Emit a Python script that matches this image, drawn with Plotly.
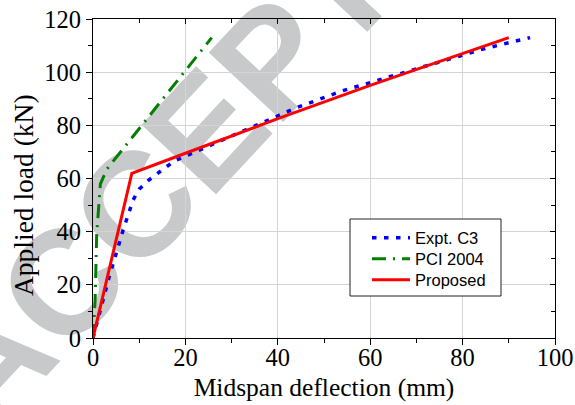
import plotly.graph_objects as go

# ---- data ----
expt_x = [0, 1.0, 3.5, 6.5, 8.7, 10.0, 12.0, 17.5, 23.8, 34.0, 44.0, 54.0, 64.3, 74.4, 84.4, 94.6]
expt_y = [0, 6.5, 23.0, 40.5, 52.0, 56.0, 59.3, 66.5, 71.2, 79.0, 86.6, 93.0, 98.2, 103.5, 108.7, 113.0]

pci_x = [0, 0.45, 0.8, 1.6, 3.0, 25.7]
pci_y = [0, 14.0, 39.0, 58.0, 63.5, 113.0]

prop_x = [0, 8.4, 20.0, 40.0, 60.0, 90.0]
prop_y = [0, 61.9, 69.5, 82.5, 95.0, 113.0]

series_names = ["Expt. C3", "PCI 2004", "Proposed"]
x_ticks = [0, 20, 40, 60, 80, 100]
y_ticks = [0, 20, 40, 60, 80, 100, 120]
x_title = "Midspan deflection (mm)"
y_title = "Applied load (kN)"
watermark = "ACCEPTED"

SERIF = "Liberation Serif, Times New Roman, serif"
SANS = "Liberation Sans, Arial, sans-serif"

fig = go.Figure()
fig.add_trace(go.Scatter(x=expt_x, y=expt_y, name=series_names[0], mode="lines", legend="legend",
                         line=dict(color="#0000ff", width=3.5, dash="4.5px,7.5px")))
fig.add_trace(go.Scatter(x=pci_x, y=pci_y, name=series_names[1], mode="lines", legend="legend2",
                         line=dict(color="#008000", width=3, dash="14px,7px,2px,7px")))
fig.add_trace(go.Scatter(x=prop_x, y=prop_y, name=series_names[2], mode="lines", legend="legend3",
                         line=dict(color="#ff0000", width=3)))
# dummy trace to draw top/right mirrored axes with inward ticks
fig.add_trace(go.Scatter(x=[None], y=[None], xaxis="x2", yaxis="y2",
                         showlegend=False, hoverinfo="skip"))

axis_common = dict(showline=True, linecolor="black", linewidth=1.3,
                   tickcolor="black", zeroline=False, automargin=False)

# plot-area geometry in pixels (used to place legend/box/labels in paper coords)
L, R, T, B = 93, 20, 19, 67
PW, PH = 575 - L - R, 405 - T - B


def px(xp):
    return (xp - L) / PW


def py(yp):
    return (405 - B - yp) / PH


def leg(yrow):
    return dict(x=px(367), y=py(yrow), xanchor="left", yanchor="middle",
                bgcolor="rgba(0,0,0,0)", borderwidth=0,
                font=dict(family=SANS, size=16.5, color="black"), itemwidth=38)


fig.update_layout(
    width=575, height=405,
    margin=dict(l=L, r=R, t=T, b=B, autoexpand=False),
    paper_bgcolor="white", plot_bgcolor="white",
    showlegend=True,
    xaxis=dict(range=[0, 100], tickvals=x_ticks, ticks="outside", ticklen=6, tickwidth=1.2,
               showgrid=True, gridcolor="#d4d4d4", gridwidth=1, ticklabelstandoff=-9,
               minor=dict(dtick=10, ticks="outside", ticklen=3.5, tickcolor="black", showgrid=False),
               tickfont=dict(family=SERIF, size=24.5, color="black"),
               title=dict(text=x_title, font=dict(family=SERIF, size=25.5, color="black"), standoff=8),
               **axis_common),
    yaxis=dict(range=[0, 120], tickvals=y_ticks, ticks="outside", ticklen=6, tickwidth=1.2,
               showgrid=True, gridcolor="#d4d4d4", gridwidth=1,
               minor=dict(dtick=10, ticks="outside", ticklen=3.5, tickcolor="black", showgrid=False),
               tickfont=dict(family=SERIF, size=24.5, color="black"),
               **axis_common),
    xaxis2=dict(range=[0, 100], overlaying="x", side="top", tickvals=x_ticks, ticks="inside",
                ticklen=5, tickwidth=1.2, showticklabels=False, showgrid=False,
                minor=dict(dtick=10, ticks="inside", ticklen=3.5, tickcolor="black"),
                **axis_common),
    yaxis2=dict(range=[0, 120], overlaying="y", side="right", tickvals=y_ticks, ticks="inside",
                ticklen=5, tickwidth=1.2, showticklabels=False, showgrid=False,
                minor=dict(dtick=10, ticks="inside", ticklen=3.5, tickcolor="black"),
                **axis_common),
    legend=leg(238),
    legend2=leg(259),
    legend3=leg(280),
)

# y-axis title (as annotation for exact placement)
fig.add_annotation(text=y_title, xref="paper", yref="paper", x=px(23), y=py(195),
                   xanchor="center", yanchor="middle", textangle=-90, showarrow=False,
                   font=dict(family=SERIF, size=27.5, color="black"))

# legend frame
fig.add_shape(type="rect", xref="paper", yref="paper",
              x0=px(350), x1=px(501), y0=py(296), y1=py(219),
              fillcolor="white", line=dict(color="#222222", width=1), layer="above")

# watermark
fig.add_shape(type="line", xref="paper", yref="paper",
              x0=0.2653, y0=0.7561, x1=0.2853, y1=0.7761,
              line=dict(width=0, color="rgba(0,0,0,0)"),
              layer="between",
              label=dict(text=watermark, textangle=-47, textposition="middle",
                         xanchor="center", yanchor="middle", padding=0,
                         font=dict(family=SANS, size=148, color="#c8c9ca", weight=700)))

fig.write_html("out.html")
